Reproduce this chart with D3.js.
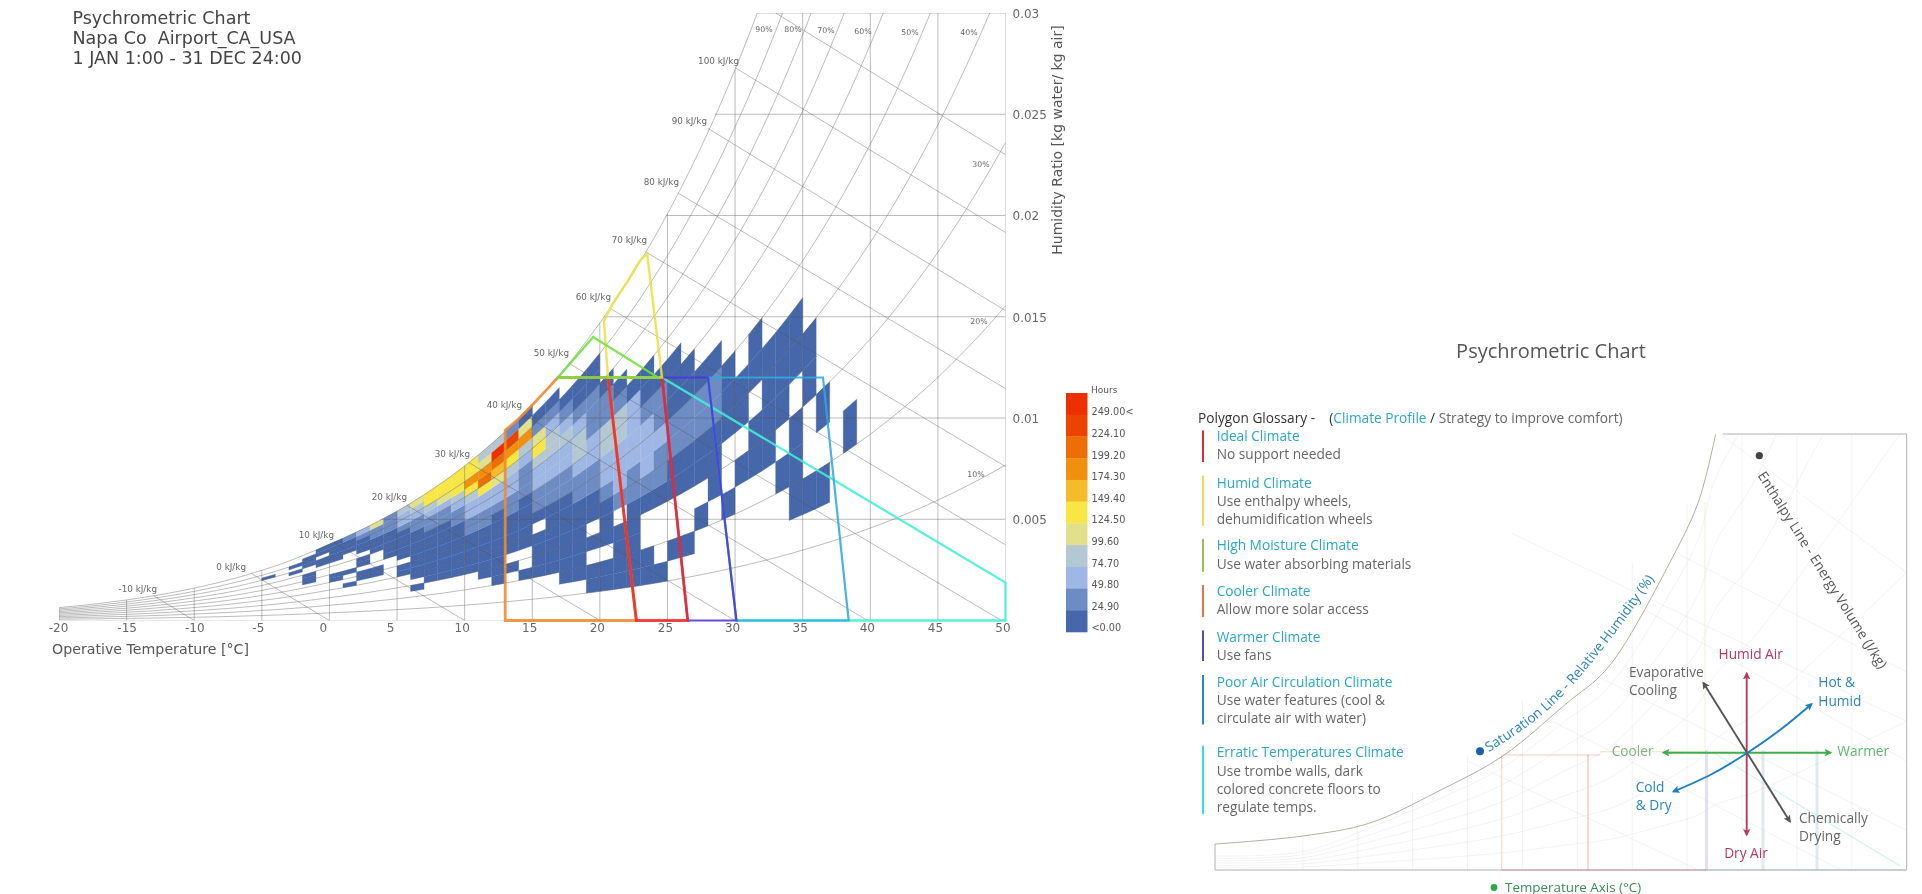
<!DOCTYPE html>
<html><head><meta charset="utf-8">
<script src="https://cdn.jsdelivr.net/npm/d3@7"></script>
<style>
html,body{margin:0;padding:0;background:#fff;overflow:hidden}
svg{display:block;filter:blur(0.45px)}
text{white-space:pre}
.dj{font-family:"DejaVu Sans",sans-serif}
.os{font-family:"Open Sans",sans-serif}
</style></head><body>
<svg id="c" width="1922" height="894"></svg>
<script>
// ---------- DATA: main chart ----------
const titleLines = ["Psychrometric Chart","Napa Co  Airport_CA_USA","1 JAN 1:00 - 31 DEC 24:00"];
const tempTicks = [-20,-15,-10,-5,0,5,10,15,20,25,30,35,40,45,50];
const humidityTicks = [0.005,0.01,0.015,0.02,0.025,0.03];
const satPressureStart = -20;
const satPressure = [.103,.114,.125,.137,.151,.165,.181,.198,.217,.238,.260,.284,.310,.338,.369,.402,.437,.476,.518,.563,.611,.657,.706,.758,.814,.872,.935,1.002,1.073,1.148,1.228,1.313,1.403,1.498,1.599,1.706,1.818,1.938,2.064,2.198,2.339,2.487,2.645,2.810,2.985,3.169,3.363,3.567,3.782,4.008,4.246,4.495,4.758,5.034,5.324,5.628,5.947,6.283,6.633,7.000,7.384,7.786,8.208,8.649,9.112,9.593,10.10,10.63,11.18,11.75,12.35];
const rhCurves = [10,20,30,40,50,60,70,80,90,100];
const enthalpyValues = [-10,0,10,20,30,40,50,60,70,80,90,100,110];
const enthalpyStart = [[-13,.00122],[-5.75,.00231],[.3,.00387],[5.75,.00568],[10.3,.0078],[14.3,.0102],[17.7,.0127],[20.8,.0154],[23.4,.0182],[25.8,.0211],[28,.0243],[30,.0273],[33,.03]];
const enthalpyEnd = [[-10,0],[0,0],[10,0],[20,0],[30,0],[39.8,0],[49.7,0],[50,.00374],[50,.0076],[50,.01145],[50,.0153],[50,.01916],[50,.023]];
const legendLabels = ["249.00<","224.10","199.20","174.30","149.40","124.50","99.60","74.70","49.80","24.90","<0.00"];
const legendColors = ["#ee3000","#ec4400","#ec6f06","#f0900e","#f4bb2a","#f7e645","#e2e08b","#b4c8d4","#9fb7e4","#6e8cc4","#4667aa"];
// one row per 1 degree temperature bin; character = legend class (0 lowest .. a highest), one per 5 % RH band, 0-50 % then 50-100 %
const tempBinStart = -5;
const hourClasses = [
".......... ......0...",//-5
".......... ..........",//-4
".......... .....0.0..",//-3
".......... .000..000.",//-2
".......... .....00.00",//-1
".......... 00...00000",//0
"........0. .0....0001",//1
".........0 0.00.00012",//2
".........0 0...000114",//3
".......... ..00000111",//4
"........00 .000001223",//5
".....0.000 0000011234",//6
"......0000 0000112355",//7
"......0000 0000112455",//8
"......0000 0001123555",//9
"......0000 0112235755",//10
".....00000 0112258743",//11
"....000000 00122468a3",//12
".....0.000 0112235791",//13
"....0..000 0011123740",//14
"....0000.0 112235410.",//15
"....000000 112233210.",//16
"...0000000 11223210..",//17
"...0000001 12332100..",//18
"..00.0.001 12211100..",//19
"..00.00012 233110....",//20
"..0000.122 23310.....",//21
"..00000112 2220......",//22
"..00..0122 2100......",//23
"..0...0112 110.......",//24
"...0..0011 000.......",//25
"...0..0011 00........",//26
"....0.0011 0.........",//27
".....00011 0.........",//28
"....0..000 ..........",//29
".....0.00. ..........",//30
".....00.00 ..........",//31
".....0000. ..........",//32
"....0.000. ..........",//33
"...000.00. ..........",//34
"...0..00.. ..........",//35
"...0.0.... ..........",//36
".......... ..........",//37
"....0..... .........."//38
];
// comfort polygons as [temperature, humidity ratio]
const polyErratic = [[30.1,0],[50,0],[50,.00187],[24.6,.012]];
const polyPoorAir = [[28,.012],[36.5,.012],[38.4,0],[30.1,0]];
const polyWarmer  = [[24.6,.012],[28,.012],[30.1,0],[26.5,0]];
const polyCooler  = [[13,0],[13,.0094],[14,.00996],[15,.01064],[16,.01135],[16.9,.012],[20.6,.012],[22.7,0]];
const polyIdeal   = [[20.6,.012],[24.6,.012],[26.5,0],[22.7,0]];
const polyHumid   = [[20.6,.012],[20.3,.0148],[21,.0157],[22,.0167],[23,.0178],[23.5,.0181],[24.6,.012]];
const polyMoist   = [[16.9,.012],[19.5,.014],[24.3,.012]];
// ---------- DATA: glossary panel ----------
const glossaryNames = ["Ideal Climate","Humid Climate","High Moisture Climate","Cooler Climate","Warmer Climate","Poor Air Circulation Climate","Erratic Temperatures Climate"];
const glossaryNotes = [["No support needed"],["Use enthalpy wheels,","dehumidification wheels"],["Use water absorbing materials"],["Allow more solar access"],["Use fans"],["Use water features (cool &","circulate air with water)"],["Use trombe walls, dark","colored concrete floors to","regulate temps."]];
const glossaryColors = ["#d32f3a","#f0d860","#9abf5a","#e8734a","#5a4aa8","#2a88c8","#30dde8"];
const panelSatT = [-13,-5,1.1,7.2,13.2,19.3,22,23.9,28.4,31,32.6];
const panelSatW = [.00262,.00343,.00474,.00787,.0115,.01707,.01948,.0221,.03097,.03704,.044];
const panelFan = [.15,.3,.45,.6,.75,.9];

// ---------- scales ----------
const x = d3.scaleLinear().domain([-20,50]).range([59,1005.5]);
const y = d3.scaleLinear().domain([0,.03]).range([620.5,13]);
const svg = d3.select("#c");
const pv = T => {const i=T-satPressureStart, a=Math.floor(i), b=Math.min(a+1,satPressure.length-1);
  return satPressure[a]+(satPressure[b]-satPressure[a])*(i-a);};
const ratio = (T,rh)=>{const p=pv(T)*rh/100; return .622*p/(101.325-p);};
const lineXY = d3.line().x(d=>x(d[0])).y(d=>y(d[1]));
const allT = d3.range(-20,51);
const defs = svg.append("defs");
defs.append("clipPath").attr("id","plot").append("rect").attr("x",x(-20)).attr("y",y(.03)).attr("width",x(50)-x(-20)).attr("height",y(0)-y(.03));
const G = svg.append("g").attr("class","dj");

// heat cells
const cells=[];
hourClasses.forEach((s,i)=>{const T=tempBinStart+i;[...s.replace(" ","")].forEach((c,j)=>{ if(c===".") return;
  const cls=c==="a"?10:+c; const rh=j*5;
  cells.push({cls,pts:[[T,ratio(T,rh)],[T+1,ratio(T+1,rh)],[T+1,ratio(T+1,rh+5)],[T,ratio(T,rh+5)]]});});});
G.append("g").attr("clip-path","url(#plot)").selectAll("path").data(cells).join("path")
 .attr("d",d=>lineXY(d.pts)+"Z").attr("fill",d=>legendColors[10-d.cls]).attr("stroke",d=>legendColors[10-d.cls]).attr("stroke-width",.3);

// grid
const grid = G.append("g").attr("clip-path","url(#plot)").attr("fill","none").attr("stroke","#555").attr("stroke-opacity",.44).attr("stroke-width",.9);
rhCurves.forEach(r=>grid.append("path").attr("d",d3.line().x(T=>x(T)).y(T=>y(ratio(T,r))).curve(d3.curveMonotoneX)(allT)));
enthalpyValues.forEach((h,i)=>grid.append("path").attr("d",lineXY([enthalpyStart[i],enthalpyEnd[i]])));
tempTicks.forEach(T=>grid.append("path").attr("d",lineXY([[T,0],[T,Math.min(ratio(T,100),.03)]])));
const tempAtSat = w=>{let T=-20;while(ratio(T+.1,100)<w&&T<50)T+=.1;return T;};
[0,...humidityTicks].forEach(w=>grid.append("path").attr("stroke-opacity",w===0?.3:.44).attr("d",lineXY([[w===0?-20:tempAtSat(w),w],[50,w]])));

// polygons
[[polyErratic,"#40f0d8",2.3,""],[polyPoorAir,"#30a8e0",2.2,"Z"],[polyWarmer,"#4a3ad8",2.2,"Z"],[polyCooler,"#f08a30",2.8,"Z"],[polyIdeal,"#f02a2a",2.8,"Z"],[polyHumid,"#ece040",2.4,"Z"],[polyMoist,"#70e040",2.4,"Z"]]
 .forEach(([p,c,sw,z])=>G.append("path").attr("d",lineXY(p)+z).attr("fill","none").attr("stroke",c).attr("stroke-width",sw).attr("stroke-opacity",.88).attr("stroke-linejoin","miter"));

// axes
const labelNudge = {"-20":-1,"-15":0,"-10":0,"-5":-4,"0":-6.5,"5":-7,"10":-3,"15":-3,"20":-3,"25":-2.5,"30":-3,"35":-3,"40":-3.5,"45":-3,"50":-3};
const axB = G.append("g").attr("transform",`translate(0,${y(0)})`).call(d3.axisBottom(x).tickValues(tempTicks).tickSize(0).tickFormat(d=>d));
axB.select(".domain").remove();
axB.selectAll("text").attr("font-size",12).attr("fill","#666").attr("y",3).attr("dy","0.71em").attr("dx",d=>labelNudge[d]).style("font-family",'"DejaVu Sans"');
const axR = G.append("g").attr("transform",`translate(${x(50)},0)`).call(d3.axisRight(y).tickValues(humidityTicks).tickSize(0).tickFormat(d=>String(d)));
axR.select(".domain").remove();
axR.selectAll("text").attr("font-size",12).attr("fill","#666").attr("x",7).attr("dy","0.36em").style("font-family",'"DejaVu Sans"');

// titles
G.append("g").selectAll("text").data(titleLines).join("text").attr("x",72.5).attr("y",(d,i)=>24+i*20.2).attr("font-size",17.5).attr("fill","#444").text(d=>d);
G.append("text").attr("x",52).attr("y",654).attr("font-size",14.2).attr("fill","#555").text("Operative Temperature [°C]");
G.append("text").attr("transform","translate(1062,140) rotate(-90)").attr("text-anchor","middle").attr("font-size",14).attr("fill","#555").text("Humidity Ratio [kg water/ kg air]");

// enthalpy labels (right end, centre y)
const hLabelPos=[[157,589],[246,567],[334,535],[407,497],[470,454],[522,405],[569,353],[611,297],[647,240],[679,182],[707,121],[739,61]];
G.append("g").selectAll("text").data(hLabelPos).join("text").attr("x",d=>d[0]).attr("y",d=>d[1]).attr("dy","0.35em").attr("text-anchor","end").attr("font-size",8.8).attr("fill","#666").text((d,i)=>enthalpyValues[i]+" kJ/kg");
// RH labels
const rhLabelText=["90%","80%","70%","60%","50%","40%","30%","20%","10%"];
const rhLabelPos=[[764,29],[793,29],[826,30],[863,31],[910,32],[969,32],[981,164],[979,321],[976,474]];
G.append("g").selectAll("text").data(rhLabelPos).join("text").attr("x",d=>d[0]).attr("y",d=>d[1]).attr("dy","0.35em").attr("text-anchor","middle").attr("font-size",7.8).attr("fill","#666").text((d,i)=>rhLabelText[i]);

// legend
const lgY=d3.scaleBand().domain(d3.range(11)).range([393,632]);
G.append("g").selectAll("rect").data(legendColors).join("rect").attr("x",1066).attr("width",21.5).attr("y",(d,i)=>lgY(i)).attr("height",lgY.bandwidth()+.3).attr("fill",d=>d);
G.append("text").attr("x",1091).attr("y",390).attr("dy","0.35em").attr("font-size",9).attr("fill","#555").text("Hours");
G.append("g").selectAll("text").data(legendLabels).join("text").attr("x",1091.5).attr("y",(d,i)=>412+i*21.6).attr("dy","0.35em").attr("font-size",9.7).attr("fill","#555").text(d=>d);

// ---------- panel ----------
const P = svg.append("g").attr("class","os");
const px = d3.scaleLinear().domain([-13,50]).range([1215,1906.7]);
const py = d3.scaleLinear().domain([0,.044]).range([870,434]);
const pLine = d3.line().x(d=>px(d[0])).y(d=>py(d[1]));
const satPts = panelSatT.map((t,i)=>[t,panelSatW[i]]);
const curve = d3.line().x(d=>px(d[0])).y(d=>py(d[1])).curve(d3.curveCatmullRom.alpha(.5));
// faded grid
defs.append("clipPath").attr("id","panel").append("rect").attr("x",1215).attr("y",434).attr("width",691.7).attr("height",436);
const pf = P.append("g").attr("fill","none").attr("stroke","#999").attr("stroke-opacity",.13).attr("stroke-width",.9).attr("clip-path","url(#panel)");
panelFan.forEach(f=>{pf.append("path").attr("d",curve(satPts.concat([[36,.052],[42,.072],[50,.1]]).map(p=>[p[0],p[1]*f*(p[0]<0?.6:1)])));});
[-5,0,5,10,15,20,25,30,35,40,45].forEach(t=>{const top=d3.bisectLeft(panelSatT,t);const w=t>32.6?.044:panelSatW[Math.min(top,10)];pf.append("path").attr("d",pLine([[t,0],[t,w]]));});
[[14,.034,50,.015],[21,.02,50,.004],[25,.027,50,.011],[29,.032,50,.02],[33,.044,50,.03],[10,.011,31,0],[16,.016,44,0]].forEach(a=>pf.append("path").attr("d",pLine([[a[0],a[1]],[a[2],a[3]]])));
// faded polygons
const fades=[[[[1501.7,755],[1501.7,870]],"#e8a070",.45,1.1],[[[1501.7,755],[1600,755]],"#e88a80",.45,1.1],[[[1588,755],[1588,870]],"#e87070",.5,1.1],[[[1501.7,870],[1706,870]],"#e06070",.75,1.1],[[[1600,751.7],[1706,751.7]],"#c8d070",.45,1.1],[[[1705,503],[1705,750]],"#ece8b0",.55,1.1],[[[1706.5,750],[1706.5,870]],"#8078b0",.22,3],[[[1763,750],[1763,870]],"#8090c0",.22,3],[[[1817,750],[1817,870]],"#90b8d8",.3,3],[[[1712,752],[1900,866]],"#a0eee0",.55,1.1],[[[1706,870],[1906,870]],"#70d8d0",.6,1.1]];
fades.forEach(([p,c,o,w])=>P.append("path").attr("d",d3.line()(p)).attr("fill","none").attr("stroke",c).attr("stroke-opacity",o).attr("stroke-width",w));
// frame and saturation line
P.append("path").attr("d",d3.line()([[1215,844],[1215,870],[1906.7,870],[1906.7,434],[1722.7,434]])).attr("fill","none").attr("stroke","#b0b0b0").attr("stroke-width",1);
P.append("path").attr("d",curve(satPts)).attr("fill","none").attr("stroke","#b5ad9c").attr("stroke-width",1);
// arrows
const arrowDefs=[["aR","#b83a5a"],["aG","#3fae4a"],["aK","#555"],["aB","#1a7fc0"]];
arrowDefs.forEach(([id,c])=>{defs.append("marker").attr("id",id).attr("viewBox","0 0 10 10").attr("refX",8).attr("refY",5).attr("markerWidth",4).attr("markerHeight",4).attr("orient","auto-start-reverse").append("path").attr("d","M0,0L10,5L0,10L2,5Z").attr("fill",c);});
const arrow=(d,c,id)=>P.append("path").attr("d",d).attr("fill","none").attr("stroke",c).attr("stroke-width",1.9).attr("marker-start",`url(#${id})`).attr("marker-end",`url(#${id})`);
arrow("M1746.7,673.3L1746.7,835","#b83a5a","aR");
arrow("M1663.3,752.7L1830.7,752.7","#3fae4a","aG");
arrow("M1703.3,682.7L1790,821.7","#555","aK");
arrow(d3.line().curve(d3.curveCatmullRom)([[1673.3,791.7],[1712,774],[1746.7,753.3],[1780,730],[1811.7,704]]),"#1a7fc0","aB");
// panel text
const T=(s,x0,y0,c,fs=13.7,anchor="start")=>P.append("text").attr("x",x0).attr("y",y0).attr("dy","0.35em").attr("font-size",fs).attr("fill",c).attr("text-anchor",anchor).text(s);
T("Psychrometric Chart",1551,351,"#555",20,"middle");
const gl=P.append("text").attr("x",1198).attr("y",418).attr("dy","0.35em").attr("font-size",13.7);
gl.append("tspan").attr("fill","#333").text("Polygon Glossary -    (");
gl.append("tspan").attr("fill","#2aa8c8").text("Climate Profile");
gl.append("tspan").attr("fill","#333").text(" / ");
gl.append("tspan").attr("fill","#666").text("Strategy to improve comfort)");
const gy=[436.4,482.9,545.5,591.2,637,682,752.6];
const barY=[[430.5,462],[475.6,525.7],[538.9,571.8],[585,617],[630.4,661],[675,724.5],[745.7,814.1]];
glossaryNames.forEach((n,i)=>{
  P.append("rect").attr("x",1202).attr("width",2).attr("y",barY[i][0]).attr("height",barY[i][1]-barY[i][0]).attr("fill",glossaryColors[i]);
  T(n,1216.7,gy[i],"#2aa8c8");
  glossaryNotes[i].forEach((l,j)=>T(l,1216.7,gy[i]+18.3*(j+1),"#666"));
});
T("Humid Air",1750.7,654,"#b5395c",13.7,"middle");
T("Dry Air",1746,853.3,"#b5395c",13.7,"middle");
T("Evaporative",1629,672.3,"#666");T("Cooling",1629,690.7,"#666");
T("Hot &",1818.3,682.7,"#2a85b8");T("Humid",1818.3,701,"#2a85b8");
T("Warmer",1837.3,751,"#5cb86a");T("Cooler",1611.7,751,"#7cb87a");
T("Cold",1635.7,787.7,"#2a85b8");T("& Dry",1635.7,805.7,"#2a85b8");
T("Chemically",1799,818.3,"#666");T("Drying",1799,836.7,"#666");
T("Temperature Axis (°C)",1505,887.5,"#3a8a5a",13.4);
P.append("circle").attr("cx",1494).attr("cy",887.5).attr("r",3.4).attr("fill","#2aa84a");
P.append("circle").attr("cx",1480).attr("cy",751.2).attr("r",4).attr("fill","#1a5fa8");
P.append("circle").attr("cx",1759.3).attr("cy",455.7).attr("r",3.6).attr("fill","#444");
P.append("text").attr("transform","translate(1757,466) rotate(57.8)").attr("y",0).attr("dy","0.35em").attr("x",8).attr("font-size",13.8).attr("fill","#555").text("Enthalpy Line - Energy Volume (J/kg)");
defs.append("path").attr("id","satText").attr("d",d3.line().curve(d3.curveCatmullRom)([[1489,752],[1536.7,719.5],[1570,688],[1606.7,644],[1636.7,604],[1662,568]]));
P.append("text").attr("font-size",13.6).attr("fill","#2a85b8").append("textPath").attr("href","#satText").text("Saturation Line - Relative Humidity (%)");
</script></body></html>
